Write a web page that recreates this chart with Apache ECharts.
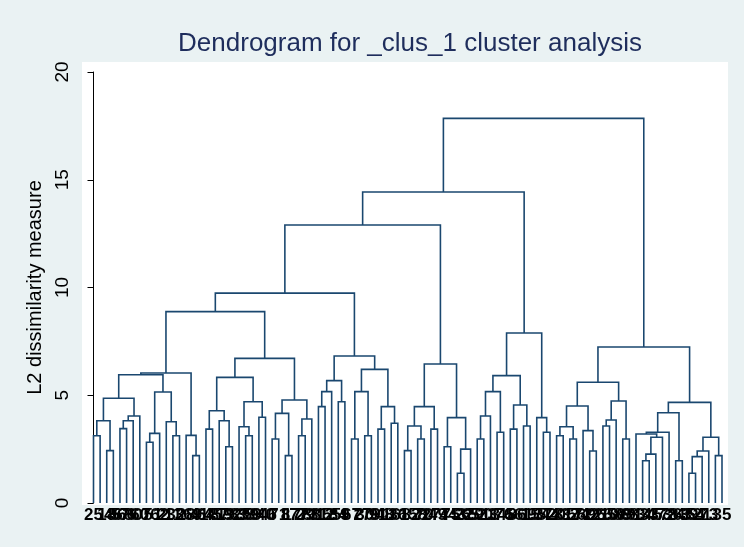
<!DOCTYPE html>
<html>
<head>
<meta charset="utf-8">
<script src="https://cdn.jsdelivr.net/npm/echarts@6/dist/echarts.min.js"></script>
<style>
html, body { margin: 0; padding: 0; background: #eaf2f3; }
#chart_box { width: 744px; height: 547px; }
</style>
</head>
<body>
<div id="chart_box"></div>
<script>
// leaf labels, in the order they sit along the x axis
var leafLabels = [
  25, 74, 18, 46, 57, 66, 80, 60, 7, 51, 62, 23, 11, 3, 28, 69, 41,
  64, 45, 87, 19, 92, 83, 38, 59, 94, 40, 6, 71, 8, 17, 77, 29, 88,
  31, 12, 55, 84, 9, 67, 2, 30, 79, 91, 48, 16, 36,
  1, 82, 58, 70, 27, 49, 4, 75, 43, 22, 65,
  52, 90, 13, 34, 76, 5, 86, 61, 15, 95, 37, 44,
  20, 81, 32, 56, 72, 42, 96, 26, 10, 50, 89, 68, 93, 14, 33, 47, 53, 78, 24, 63, 39, 54, 21, 73, 85, 35
];

// merges: [left, right, height], a number = leaf position
var grpA = [[[0, 1, 3.12], [2, 3, 2.43], 3.82], [[[4, 5, 3.45], 6, 3.82], 7, 4.04], 4.86];
var grpB = [[[8, 9, 2.82], 10, 3.23], [11, [12, 13, 3.12], 3.77], 5.15];
var grpC = [14, [15, 16, 2.2], 3.14];
var grpD = [[17, 18, 3.43], [19, [20, 21, 2.61], 3.82], 4.28];
var grpE = [[22, [23, 24, 3.12], 3.54], [25, 26, 3.98], 4.70];
var grpF = [[[27, 28, 2.97], [29, 30, 2.2], 4.16], [[31, 32, 3.12], 33, 3.9], 4.78];
var grpG = [[[34, 35, 4.47], 36, 5.17], [37, 38, 4.70], 5.68];
var grpH = [[[39, 40, 2.97], [41, 42, 3.12], 5.17], [[43, 44, 3.43], [45, 46, 3.7], 4.47], 6.2];
var grpI = [[[47, 48, 2.43], [49, 50, 2.97], 3.57], [51, 52, 3.43], 4.47];
var grpJ = [[53, 54, 2.61], [[55, 56, 1.38], 57, 2.5], 3.96];
var grpK = [[[58, 59, 2.97], 60, 4.04], [61, 62, 3.28], 5.17];
var grpL = [[63, 64, 3.43], [65, 66, 3.57], 4.55];
var grpM = [67, [68, 69, 3.28], 3.96];
var grpN = [[[70, 71, 3.12], [72, 73, 2.97], 3.54], [74, [75, 76, 2.41], 3.36], 4.5];
var grpO = [[[77, 78, 3.57], 79, 3.85], [80, 81, 2.97], 4.73];
var grpQ = [[[82, [[[83, 84, 1.96], 85, 2.27], 86, 3.05], 3.2], 87, 3.28], [88, 89, 1.96], 4.19];
var grpR = [[[[90, 91, 1.38], 92, 2.15], 93, 2.41], [94, 95, 2.2], 3.05];

// heights of the bigger clusters
var clus1 = [[grpA, grpB, 5.95], grpC, 6.03];
var clus2 = [[grpD, grpE, 5.83], grpF, 6.71];
var clus3 = [grpG, grpH, 6.82];
var clus4 = [grpI, grpJ, 6.45];
var clus5 = [[grpK, grpL, 5.91], grpM, 7.89];
var clus6 = [[grpN, grpO, 5.6], [grpQ, grpR, 4.67], 7.24];
var topHeights = [8.88, 9.74, 12.9, 14.43, 17.85];

var yTicks = [0, 5, 10, 15, 20];

var tree = [[[[[clus1, clus2, topHeights[0]], clus3, topHeights[1]], clus4, topHeights[2]], clus5, topHeights[3]], clus6, topHeights[4]];

// turn the tree into bracket polylines
var links = [];
function walk(node) {
  if (typeof node === "number") return { x: node, h: 0 };
  var a = walk(node[0]);
  var b = walk(node[1]);
  var h = node[2];
  links.push({ coords: [[a.x, a.h], [a.x, h], [b.x, h], [b.x, b.h]] });
  return { x: (a.x + b.x) / 2, h: h };
}
walk(tree);

var myecharts = echarts.init(document.getElementById("chart_box"));
var option = {
  backgroundColor: "#eaf2f3",
  animation: false,
  title: {
    text: "Dendrogram for _clus_1 cluster analysis",
    left: 405,
    top: 26,
    textAlign: "center",
    textStyle: {
      fontFamily: "Liberation Sans",
      fontSize: 26,
      fontWeight: "normal",
      color: "#1e2d5c"
    }
  },
  graphic: [
    {
      type: "rect",
      shape: { x: 82, y: 62, width: 646, height: 443 },
      style: { fill: "#fff" },
      z: -10,
      silent: true
    }
  ],
  grid: { left: 93.5, right: 22, top: 72, bottom: 44 },
  xAxis: {
    type: "value",
    min: 0,
    max: leafLabels.length - 1,
    interval: 1,
    axisLine: { show: false },
    axisTick: { show: false },
    splitLine: { show: false },
    axisLabel: {
      formatter: function (v) { return leafLabels[v]; },
      showMinLabel: true,
      showMaxLabel: true,
      margin: 4,
      color: "#000",
      fontSize: 17,
      fontWeight: "bold",
      fontFamily: "Liberation Sans"
    }
  },
  yAxis: {
    type: "value",
    min: yTicks[0],
    max: yTicks[yTicks.length - 1],
    interval: 5,
    offset: 11.5,
    name: "L2 dissimilarity measure",
    nameLocation: "middle",
    nameGap: 30,
    nameTextStyle: { fontFamily: "Liberation Sans", fontSize: 20, color: "#000" },
    axisLine: { show: true, lineStyle: { color: "#000", width: 1 } },
    axisTick: { show: true, length: 6, lineStyle: { color: "#000" } },
    axisLabel: { rotate: 90, margin: 10, fontSize: 19, color: "#000", fontFamily: "Liberation Sans" },
    splitLine: { show: false }
  },
  series: [
    {
      type: "lines",
      coordinateSystem: "cartesian2d",
      polyline: true,
      silent: true,
      lineStyle: { color: "#1a476f", width: 1.6, opacity: 1 },
      data: links
    }
  ]
};
myecharts.setOption(option);
</script>
</body>
</html>
